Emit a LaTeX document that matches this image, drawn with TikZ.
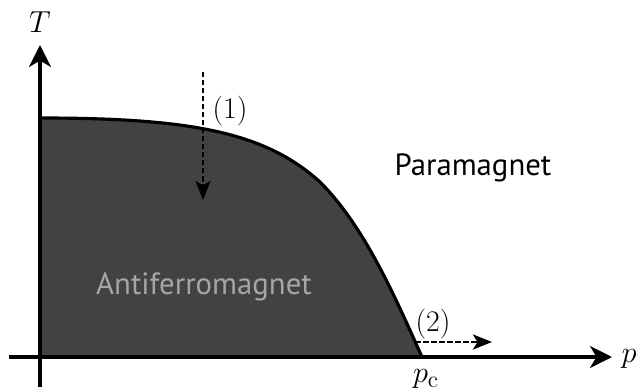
\documentclass[tikz,border=0pt]{standalone}
\usepackage{fontspec}
\newfontfamily\phasefont{PT Sans}
\usetikzlibrary{arrows.meta}
\tikzset{
  axis/.style={line width=1.8pt,-{Stealth[length=4.4mm,width=4.4mm,inset=1.3mm]}},
  path/.style={line width=1.6pt,dash pattern=on 1.1mm off 0.5mm,-{Stealth[length=3.8mm,width=3mm,inset=0.9mm]}},
  axislabel/.style={font=\fontsize{19}{19}\selectfont},
  pathlabel/.style={font=\fontsize{17}{17}\selectfont,inner sep=1pt},
  phase/.style={font=\fontsize{17.5}{17.5}\selectfont\phasefont}
}
\begin{document}
\begin{tikzpicture}
  \useasboundingbox (-0.8,-0.68) rectangle (11.96,7.14);
  % phase boundary
  \coordinate (top) at (0,4.78);
  \coordinate (knee) at (5.6,3.5);
  \coordinate (pc) at (7.64,0);
  \fill[black!74] (0,0) -- (top) .. controls (3,4.78) and (4.5,4.5) .. (knee)
    .. controls (6.5,2.6) and (7.1,1.2) .. (pc) -- cycle;
  \draw[line width=1.8pt] (top) .. controls (3,4.78) and (4.5,4.5) .. (knee)
    .. controls (6.5,2.6) and (7.1,1.2) .. (pc);
  % axes
  \coordinate (Tstart) at (0,-0.6);
  \coordinate (Tend) at (0,6.24);
  \coordinate (pstart) at (-0.62,0);
  \coordinate (pend) at (11.44,0);
  \draw[axis] (Tstart) -- (Tend);
  \draw[axis] (pstart) -- (pend);
  \node[axislabel] (T) at (0,6.7) {$T$};
  \node[axislabel] (p) at (11.78,-0.04) {$p$};
  \node[axislabel] (pclabel) at (7.72,-0.44) {$p_{\mathrm{c}}$};
  % paths (1) and (2)
  \coordinate (a1) at (3.26,5.7);
  \coordinate (b1) at (3.26,3.14);
  \draw[path] (a1) -- (b1);
  \node[pathlabel] (one) at (3.8,4.92) {(1)};
  \coordinate (a2) at (7.5,0.3);
  \coordinate (b2) at (9.04,0.3);
  \draw[path] (a2) -- (b2);
  \node[pathlabel] (two) at (7.86,0.66) {(2)};
  % phases
  \node[phase] (para) at (8.66,3.78) {Paramagnet};
  \node[phase,text=black!35] (antiferro) at (3.28,1.4) {Antiferromagnet};
\end{tikzpicture}
\end{document}
